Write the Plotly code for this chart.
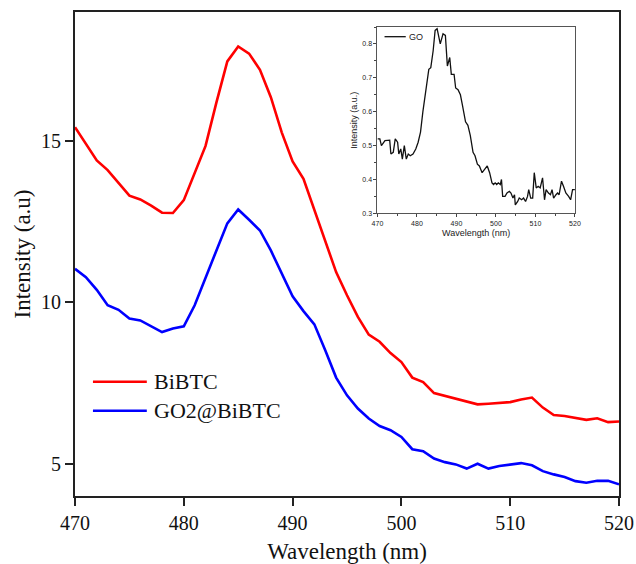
import plotly.graph_objects as go

# Photoluminescence spectra, 470-520 nm
wavelength = list(range(470, 521))

bibtc = [15.43, 14.93, 14.40, 14.10, 13.69, 13.31, 13.19, 13.00, 12.78, 12.77,
         13.17, 14.00, 14.85, 16.20, 17.47, 17.93, 17.71, 17.21, 16.36, 15.27,
         14.37, 13.83, 12.85, 11.92, 10.94, 10.22, 9.55, 9.00, 8.78, 8.43,
         8.15, 7.67, 7.53, 7.19, 7.10, 7.00, 6.91, 6.84, 6.86, 6.89,
         6.91, 6.99, 7.05, 6.74, 6.51, 6.48, 6.42, 6.36, 6.41, 6.29, 6.31]

go2_bibtc = [11.04, 10.78, 10.39, 9.91, 9.77, 9.50, 9.44, 9.26, 9.08, 9.19,
             9.26, 9.91, 10.78, 11.61, 12.45, 12.88, 12.56, 12.23, 11.61, 10.89,
             10.19, 9.73, 9.32, 8.52, 7.67, 7.12, 6.71, 6.40, 6.17, 6.04,
             5.83, 5.45, 5.39, 5.16, 5.05, 4.98, 4.85, 5.00, 4.85, 4.93,
             4.98, 5.02, 4.95, 4.77, 4.67, 4.59, 4.46, 4.41, 4.47, 4.47, 4.36]

# GO spectrum (inset)
go_wavelength = [470.0, 470.6, 471.0, 471.9, 473.1, 473.4, 474.0, 474.5, 475.1, 475.4,
                 475.9, 476.3, 476.8, 477.3, 477.8, 478.3, 479.0, 479.7, 480.3, 480.9,
                 481.5, 482.4, 483.0, 483.5, 484.1, 484.6, 485.1, 485.9, 486.6, 487.2,
                 487.7, 488.3, 488.7, 489.4, 489.8, 490.4, 491.0, 491.5, 492.3, 492.9,
                 493.5, 494.2, 494.7, 495.3, 495.8, 496.5, 497.1, 497.8, 498.4, 499.0,
                 499.4, 499.8, 500.2, 500.6, 501.1, 501.4, 501.7, 502.3, 502.8, 503.4,
                 503.8, 504.3, 504.7, 504.9, 505.5, 505.9, 506.5, 507.0, 507.5, 508.0,
                 508.3, 508.8, 509.3, 509.7, 510.2, 510.7, 511.2, 511.8, 512.3, 512.7,
                 513.3, 513.8, 514.2, 514.6, 515.2, 515.6, 516.0, 516.6, 517.1, 517.7,
                 518.4, 518.9, 519.4, 520.0]
go_intensity = [0.520, 0.520, 0.500, 0.515, 0.516, 0.475, 0.480, 0.520, 0.510, 0.475,
                0.490, 0.460, 0.500, 0.460, 0.475, 0.470, 0.475, 0.490, 0.510, 0.540,
                0.600, 0.670, 0.725, 0.730, 0.780, 0.840, 0.845, 0.800, 0.830, 0.825,
                0.735, 0.760, 0.710, 0.710, 0.670, 0.665, 0.650, 0.620, 0.570, 0.560,
                0.530, 0.480, 0.470, 0.445, 0.440, 0.420, 0.430, 0.440, 0.420, 0.390,
                0.385, 0.390, 0.385, 0.390, 0.385, 0.400, 0.350, 0.350, 0.360, 0.365,
                0.360, 0.345, 0.355, 0.325, 0.335, 0.345, 0.340, 0.345, 0.335, 0.350,
                0.370, 0.345, 0.345, 0.420, 0.375, 0.380, 0.375, 0.405, 0.340, 0.370,
                0.360, 0.355, 0.370, 0.345, 0.355, 0.360, 0.355, 0.395, 0.380, 0.360,
                0.350, 0.340, 0.370, 0.370]

series_names = ["BiBTC", "GO2@BiBTC"]
inset_name = "GO"

SERIF = "Liberation Serif, Times New Roman, serif"
SANS = "Liberation Sans, Arial, sans-serif"

fig = go.Figure()
fig.add_trace(go.Scatter(x=wavelength, y=bibtc, mode="lines", name=series_names[0],
                         line=dict(color="#ff0000", width=2.6), showlegend=False))
fig.add_trace(go.Scatter(x=wavelength, y=go2_bibtc, mode="lines", name=series_names[1],
                         line=dict(color="#0000ff", width=2.6), showlegend=False))
fig.add_trace(go.Scatter(x=go_wavelength, y=go_intensity, mode="lines", name=inset_name,
                         line=dict(color="#111111", width=1.3), showlegend=False,
                         xaxis="x2", yaxis="y2"))

main_axis = dict(showline=True, linecolor="#222222", linewidth=2, mirror=True,
                 ticks="outside", ticklen=8, tickwidth=2, tickcolor="#222222",
                 showgrid=False, zeroline=False, automargin=False,
                 tickfont=dict(family=SERIF, size=20, color="#111111"))
inset_axis = dict(showline=True, linecolor="#555555", linewidth=1, mirror=True,
                  ticks="outside", ticklen=3, tickwidth=1, tickcolor="#444444",
                  showgrid=False, zeroline=False, automargin=False,
                  tickfont=dict(family=SANS, size=7, color="#222222"))

fig.update_layout(
    width=636, height=564,
    margin=dict(l=75, r=17, t=12, b=68),
    paper_bgcolor="white", plot_bgcolor="white",
    xaxis=dict(main_axis, range=[470, 520], tick0=470, dtick=10,
               title=dict(text="Wavelength (nm)", standoff=14,
                          font=dict(family=SERIF, size=23, color="#111111"))),
    yaxis=dict(main_axis, range=[4, 19], tick0=5, dtick=5,
               title=dict(text="Intensity (a.u)", standoff=4,
                          font=dict(family=SERIF, size=23, color="#111111"))),
    xaxis2=dict(inset_axis, domain=[0.556, 0.919], anchor="y2", range=[470, 520],
                tick0=470, dtick=10,
                minor=dict(ticks="outside", ticklen=2, dtick=5, tickcolor="#444444"),
                title=dict(text="Wavelength (nm)", standoff=3,
                           font=dict(family=SANS, size=9, color="#222222"))),
    yaxis2=dict(inset_axis, domain=[0.584, 0.969], anchor="x2", range=[0.3, 0.85],
                tick0=0.3, dtick=0.1, tickformat=".1f",
                minor=dict(ticks="outside", ticklen=2, dtick=0.05, tickcolor="#444444"),
                title=dict(text="Intensity (a.u.)", standoff=3,
                           font=dict(family=SANS, size=9, color="#222222"))),
)

# Legend for the main spectra
legend_rows = [(series_names[0], "#ff0000", 0.236), (series_names[1], "#0000ff", 0.176)]
for label, color, ypos in legend_rows:
    fig.add_shape(type="line", xref="paper", yref="paper",
                  x0=0.033, x1=0.132, y0=ypos, y1=ypos,
                  line=dict(color=color, width=2.6))
    fig.add_annotation(text=label, xref="paper", yref="paper", x=0.142, y=ypos,
                       xanchor="left", yanchor="middle", showarrow=False,
                       font=dict(family=SERIF, size=22, color="#111111"))

# Legend for the inset
fig.add_shape(type="line", xref="paper", yref="paper",
              x0=0.569, x1=0.608, y0=0.949, y1=0.949,
              line=dict(color="#111111", width=1.3))
fig.add_annotation(text=inset_name, xref="paper", yref="paper", x=0.611, y=0.949,
                   xanchor="left", yanchor="middle", showarrow=False,
                   font=dict(family=SANS, size=9, color="#222222"))

fig.write_html("out.html")
